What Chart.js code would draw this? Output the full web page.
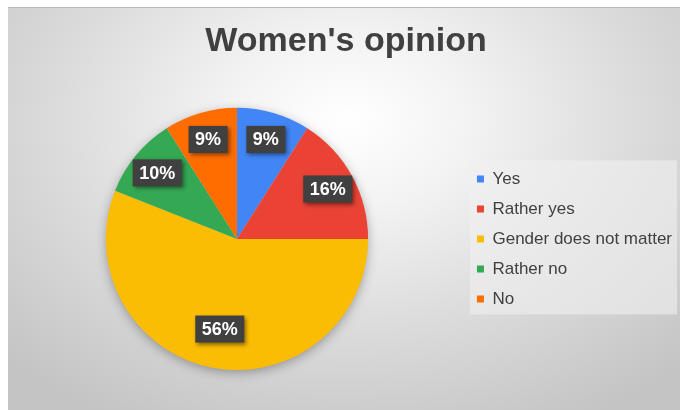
<!DOCTYPE html>
<html>
<head>
<meta charset="utf-8">
<script src="https://cdn.jsdelivr.net/npm/chart.js@4.4.1/dist/chart.umd.min.js"></script>
<style>
  html, body { margin: 0; padding: 0; background: #fff; overflow: hidden; width: 680px; height: 410px; }
  #frame {
    position: absolute; left: 8px; top: 7px; width: 680px; height: 403px;
    border-top: 1px solid #b8b8b8;
    box-sizing: border-box;
    background: radial-gradient(ellipse 70% 85% at 50% 28%, #ffffff 0%, #f3f3f3 25%, #dcdcdc 60%, #c4c4c4 100%);
  }
</style>
</head>
<body>
<div id="frame"><canvas id="pie"></canvas></div>
<script>
const labels = ["Yes", "Rather yes", "Gender does not matter", "Rather no", "No"];
const shares = [9, 16, 56, 10, 9];
const colors = ["#4285F4", "#EA4335", "#FBBC04", "#34A853", "#FF6D01"];

const FONT = "'Liberation Sans', Arial, sans-serif";

// soft shadow under the whole pie + lighter box behind legend
const backdrop = {
  id: "backdrop",
  beforeDatasetsDraw(chart) {
    const ctx = chart.ctx;
    const arc = chart.getDatasetMeta(0).data[0];
    if (!arc) return;
    const p = arc.getProps(["x", "y", "outerRadius"], true);
    ctx.save();
    ctx.shadowColor = "rgba(0,0,0,0.35)";
    ctx.shadowBlur = 12;
    ctx.shadowOffsetY = 3;
    ctx.fillStyle = "#d0d0d0";
    ctx.beginPath();
    ctx.arc(p.x, p.y, p.outerRadius - 1, 0, Math.PI * 2);
    ctx.fill();
    ctx.restore();
  },
  beforeDraw(chart) {
    const lg = chart.legend;
    if (!lg || !lg.legendHitBoxes.length) return;
    const hb = lg.legendHitBoxes;
    const top = hb[0].top - 10;
    const bottom = hb[hb.length - 1].top + hb[hb.length - 1].height + 7;
    const ctx = chart.ctx;
    ctx.save();
    ctx.fillStyle = "rgba(240,240,240,0.6)";
    ctx.fillRect(lg.left + 6, top, 669 - lg.left - 6, bottom - top);
    ctx.restore();
  }
};

// percentage labels in dark boxes
const pctLabels = {
  id: "pctLabels",
  afterDatasetsDraw(chart) {
    const ctx = chart.ctx;
    const meta = chart.getDatasetMeta(0);
    const vals = chart.data.datasets[0].data;
    const total = vals.reduce((a, b) => a + b, 0);
    ctx.save();
    ctx.font = "bold 18px " + FONT;
    ctx.textAlign = "center";
    ctx.textBaseline = "middle";
    meta.data.forEach((arc, i) => {
      const p = arc.getProps(["x", "y", "startAngle", "endAngle", "outerRadius"], true);
      const mid = (p.startAngle + p.endAngle) / 2;
      const f = vals[i] / total > 0.4 ? 0.7 : 0.79;
      const cx = p.x + Math.cos(mid) * p.outerRadius * f;
      const cy = p.y + Math.sin(mid) * p.outerRadius * f;
      const txt = Math.round(vals[i] / total * 100) + "%";
      const w = ctx.measureText(txt).width + 13;
      const h = 27;
      ctx.shadowColor = "rgba(0,0,0,0.45)";
      ctx.shadowBlur = 4;
      ctx.shadowOffsetX = 2;
      ctx.shadowOffsetY = 2;
      ctx.fillStyle = "#404040";
      ctx.fillRect(cx - w / 2, cy - h / 2, w, h);
      ctx.shadowColor = "transparent";
      ctx.fillStyle = "#ffffff";
      ctx.fillText(txt, cx, cy + 1);
    });
    ctx.restore();
  }
};

new Chart("pie", {
  type: "pie",
  data: {
    labels: labels,
    datasets: [{
      data: shares,
      backgroundColor: colors,
      borderWidth: 0
    }]
  },
  options: {
    responsive: true,
    maintainAspectRatio: false,
    animation: false,
    layout: { padding: { left: 2, right: 6, top: 0, bottom: 40 } },
    plugins: {
      title: {
        display: true,
        text: "Women's opinion",
        color: "#404040",
        font: { family: FONT, size: 34, weight: "bold" },
        padding: { top: 13, bottom: 46 }
      },
      legend: {
        position: "right",
        fullSize: false,
        labels: {
          color: "#404040",
          font: { family: FONT, size: 17 },
          boxWidth: 7,
          boxHeight: 7,
          padding: 13
        }
      },
      tooltip: { enabled: false }
    }
  },
  plugins: [backdrop, pctLabels]
});
</script>
</body>
</html>
